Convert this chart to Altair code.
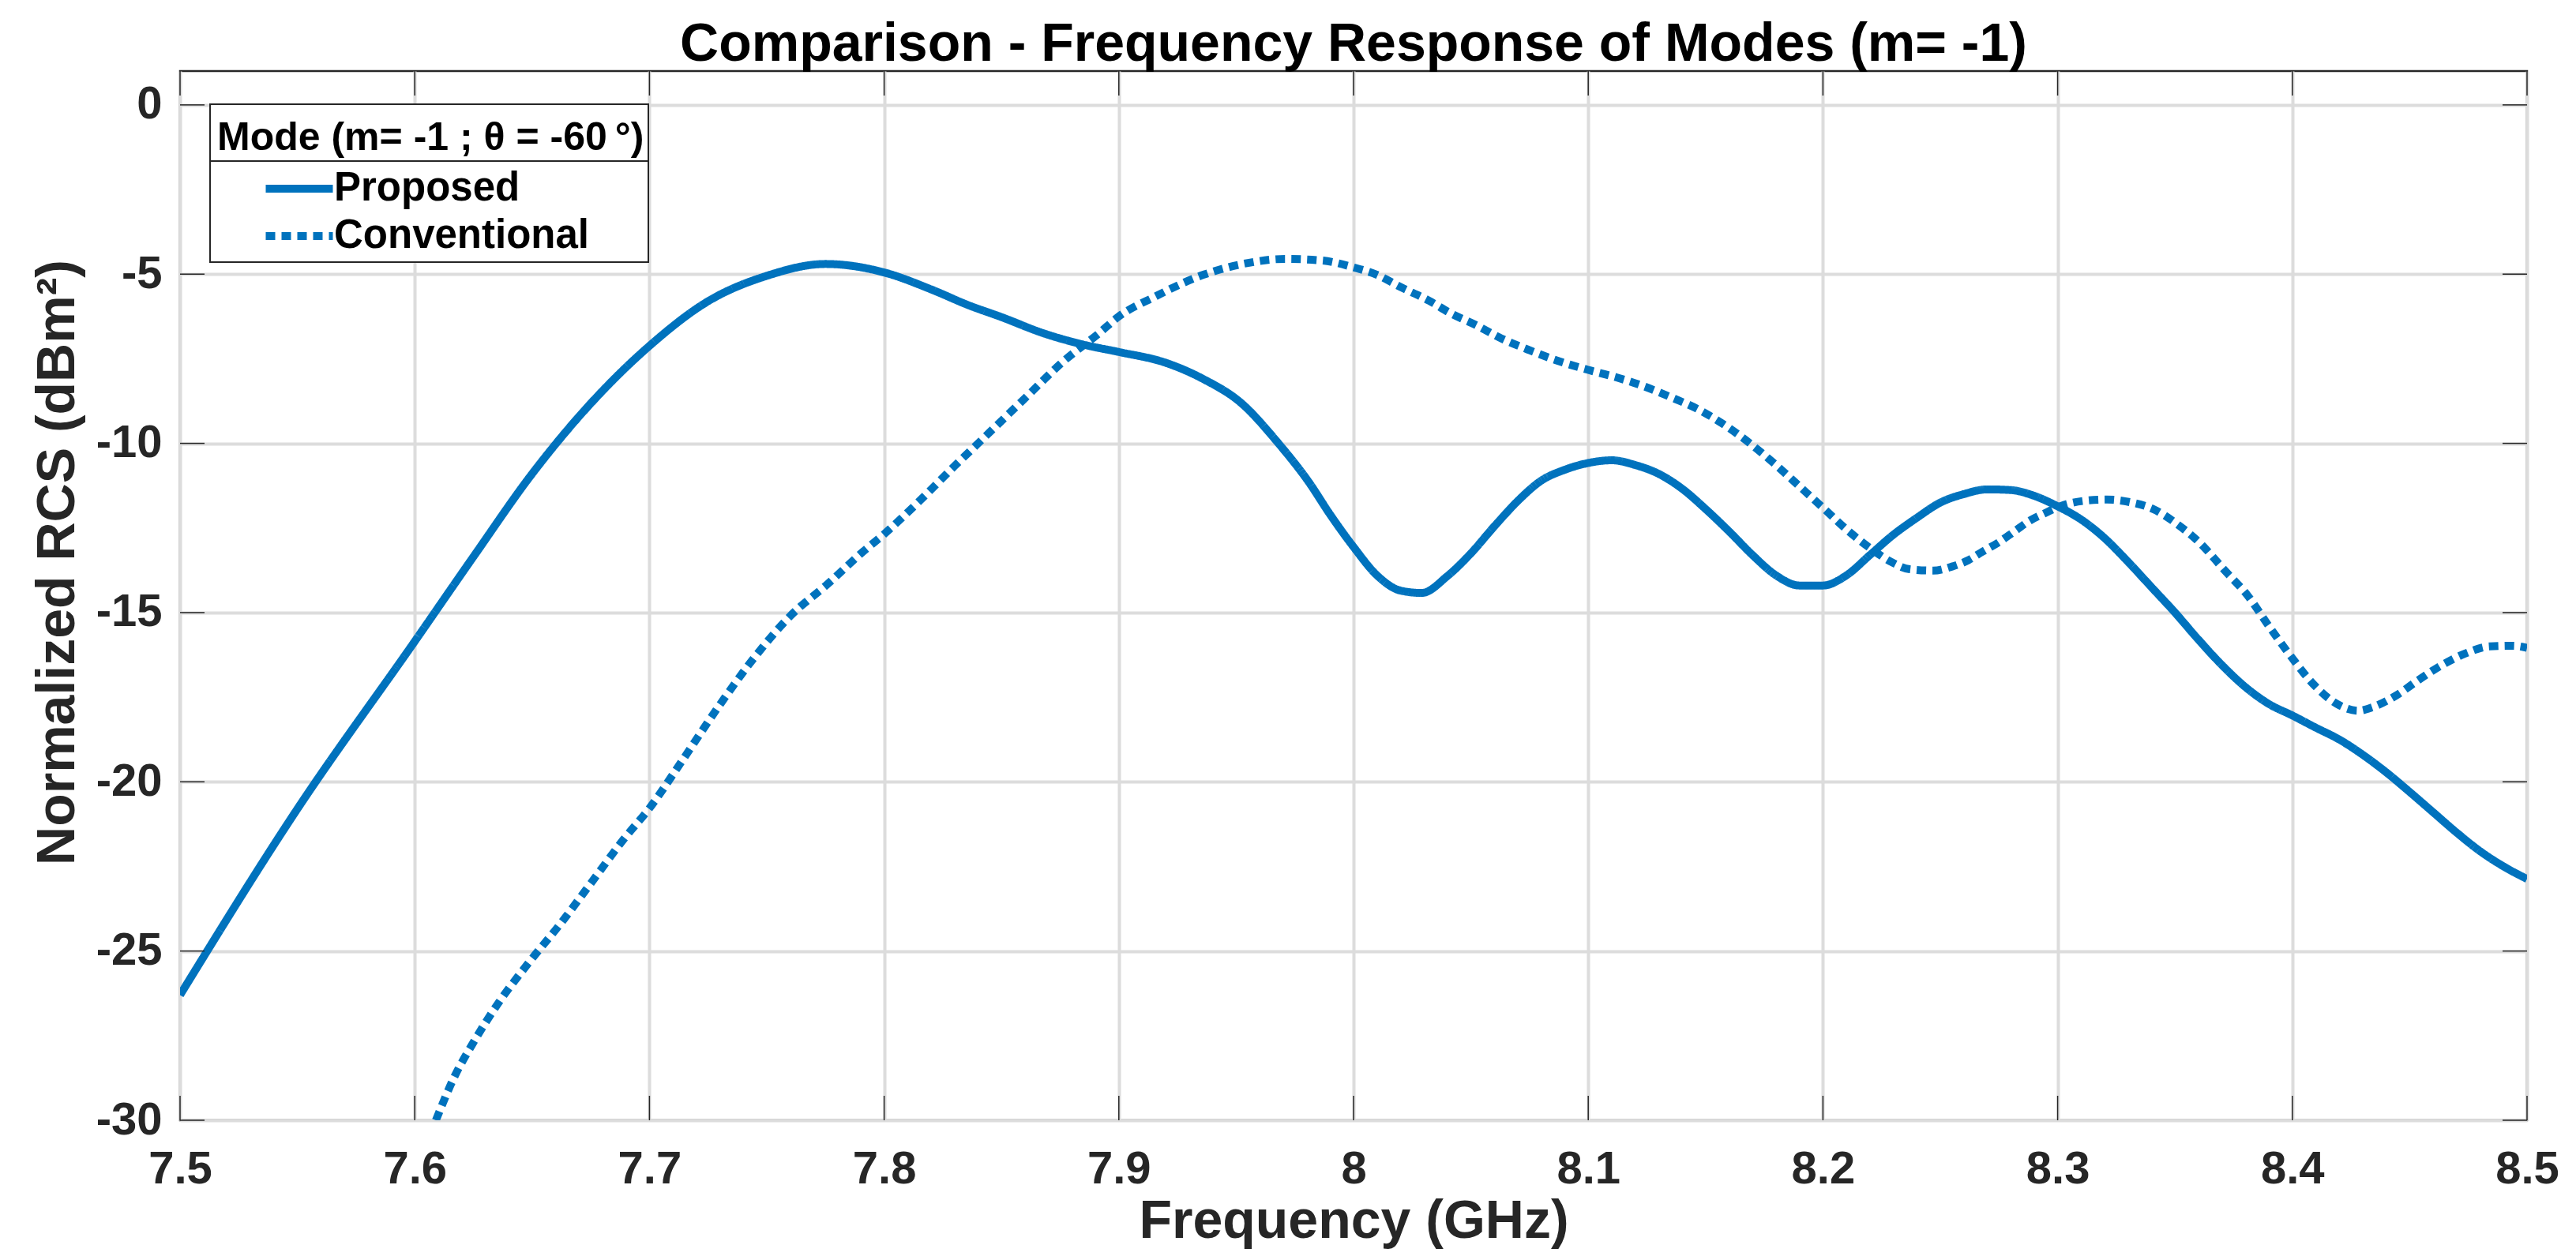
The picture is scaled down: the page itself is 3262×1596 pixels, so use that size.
import altair as alt
import pandas as pd

# ---------------- data ----------------
series_names = ["Proposed", "Conventional"]

prop_freq = [7.50, 7.55, 7.60, 7.625, 7.65, 7.675, 7.70, 7.725, 7.75, 7.775,
             7.80, 7.82, 7.836, 7.85, 7.868, 7.886, 7.90, 7.92, 7.936, 7.952,
             7.968, 7.981, 7.99, 8.00, 8.01, 8.02, 8.029, 8.04, 8.05, 8.06,
             8.07, 8.08, 8.09, 8.10, 8.11, 8.12, 8.13, 8.14, 8.15, 8.16,
             8.17, 8.18, 8.19, 8.20, 8.21, 8.22, 8.23, 8.24, 8.25, 8.26,
             8.27, 8.28, 8.29, 8.30, 8.31, 8.32, 8.33, 8.34, 8.35, 8.36,
             8.37, 8.38, 8.39, 8.40, 8.41, 8.42, 8.43, 8.44, 8.45, 8.46,
             8.47, 8.48, 8.49, 8.50]
prop_rcs = [-26.3, -20.8, -15.85, -13.35, -10.9, -8.82, -7.12, -5.8, -5.05, -4.7,
            -4.95, -5.45, -5.92, -6.27, -6.75, -7.1, -7.3, -7.62, -8.1, -8.8,
            -10.0, -11.15, -12.1, -13.06, -13.9, -14.35, -14.42, -13.92, -13.25, -12.45,
            -11.7, -11.1, -10.78, -10.58, -10.5, -10.64, -10.9, -11.34, -11.94, -12.6,
            -13.3, -13.9, -14.2, -14.2, -13.9, -13.3, -12.7, -12.2, -11.75, -11.5,
            -11.36, -11.38, -11.55, -11.86, -12.25, -12.8, -13.5, -14.25, -15.0, -15.8,
            -16.55, -17.2, -17.7, -18.04, -18.4, -18.75, -19.2, -19.72, -20.3, -20.9,
            -21.5, -22.05, -22.5, -22.87]

conv_freq = [7.609, 7.617, 7.625, 7.635, 7.6485, 7.662, 7.675, 7.689, 7.70, 7.714,
             7.7295, 7.745, 7.76, 7.776, 7.791, 7.80, 7.8145, 7.83, 7.845, 7.861,
             7.876, 7.892, 7.90, 7.915, 7.936, 7.955, 7.971, 7.987, 8.00, 8.01,
             8.02, 8.032, 8.042, 8.052, 8.063, 8.075, 8.087, 8.10, 8.112, 8.124,
             8.135, 8.147, 8.159, 8.17, 8.18, 8.19, 8.20, 8.211, 8.221, 8.229,
             8.237, 8.247, 8.255, 8.262, 8.268, 8.275, 8.282, 8.288, 8.295, 8.301,
             8.311, 8.321, 8.331, 8.341, 8.351, 8.361, 8.371, 8.381, 8.39, 8.40,
             8.409, 8.419, 8.428, 8.434, 8.444, 8.454, 8.464, 8.474, 8.484, 8.494,
             8.50]
conv_rcs = [-30.0, -28.7, -27.7, -26.6, -25.35, -24.2, -23.0, -21.7, -20.78, -19.37,
            -17.77, -16.3, -15.1, -14.15, -13.2, -12.68, -11.74, -10.67, -9.67, -8.6,
            -7.6, -6.72, -6.25, -5.68, -5.02, -4.67, -4.55, -4.6, -4.8, -5.02,
            -5.38, -5.78, -6.18, -6.5, -6.9, -7.25, -7.56, -7.83, -8.05, -8.32,
            -8.63, -9.0, -9.5, -10.06, -10.64, -11.27, -11.9, -12.6, -13.14, -13.5,
            -13.72, -13.76, -13.64, -13.45, -13.2, -12.92, -12.58, -12.29, -12.05, -11.86,
            -11.7, -11.66, -11.74, -11.95, -12.39, -12.97, -13.74, -14.5, -15.4, -16.35,
            -17.12, -17.7, -17.9, -17.8, -17.46, -16.98, -16.54, -16.2, -16.0, -15.98,
            -16.04]

x_ticks = [7.5, 7.6, 7.7, 7.8, 7.9, 8.0, 8.1, 8.2, 8.3, 8.4, 8.5]
y_ticks = [-30, -25, -20, -15, -10, -5, 0]
x_domain = [7.5, 8.5]
y_domain = [-30, 1]

chart_title = "Comparison - Frequency Response of Modes (m= -1)"
legend_title = "Mode (m= -1 ; \u03b8 = -60\u2009\u00b0)"
x_title = "Frequency (GHz)"
y_title = "Normalized RCS (dBm\u00b2)"

# ---------------- styling ----------------
W, H = 2972, 1329
FONT = "Liberation Sans"
BLUE = "#0072BD"
AX = "#262626"
GRID = "#dcdcdc"
TICK_LEN = 31

df = pd.concat([
    pd.DataFrame({"freq": prop_freq, "rcs": prop_rcs, "series": series_names[0]}),
    pd.DataFrame({"freq": conv_freq, "rcs": conv_rcs, "series": series_names[1]}),
], ignore_index=True)

xscale = alt.Scale(domain=x_domain, nice=False, zero=False)
yscale = alt.Scale(domain=y_domain, nice=False, zero=False)

x_axis = alt.Axis(
    values=x_ticks, labelExpr="'' + datum.value", title=x_title,
    grid=True, gridColor=GRID, gridWidth=4, domain=False, ticks=False, tickSize=0,
    labelFont=FONT, labelFontSize=58, labelFontWeight="bold", labelColor=AX,
    labelPadding=33, labelFlush=False, labelOverlap=False,
    titleFont=FONT, titleFontSize=68, titleFontWeight="bold", titleColor=AX,
    titleY=148, titleBaseline="alphabetic",
)
y_axis = alt.Axis(
    values=y_ticks, labelExpr="'' + datum.value", title=y_title,
    grid=True, gridColor=GRID, gridWidth=4, domain=False, ticks=False, tickSize=0,
    labelFont=FONT, labelFontSize=58, labelFontWeight="bold", labelColor=AX,
    labelPadding=23, labelFlush=False, labelOverlap=False,
    titleFont=FONT, titleFontSize=68, titleFontWeight="bold", titleColor=AX,
    titleX=-135, titleY=622, titleAngle=270, titleAlign="center",
    titleBaseline="alphabetic",
)

legend = alt.Legend(
    title=legend_title, orient="none", legendX=47, legendY=60, padding=0,
    titleFont=FONT, titleFontSize=50, titleFontWeight="bold", titleColor="black",
    titlePadding=9, titleLimit=2000,
    labelFont=FONT, labelFontSize=51, labelFontWeight="bold", labelColor="black",
    labelLimit=2000, labelOffset=14,
    symbolType="M-1.7,0H1.7", symbolSize=2500, symbolStrokeWidth=10,
    symbolStrokeColor=BLUE, symbolOffset=74, rowPadding=5,
)

# legend frame (white box + divider under the title)
legend_box = alt.Chart(pd.DataFrame({"k": [0]})).mark_rect(
    fill="white", stroke=AX, strokeWidth=2
).encode(x=alt.value(38), x2=alt.value(593), y=alt.value(42), y2=alt.value(242))
legend_div = alt.Chart(pd.DataFrame({"k": [0]})).mark_rule(
    color=AX, strokeWidth=2
).encode(x=alt.value(38), x2=alt.value(593), y=alt.value(114))

lines = alt.Chart(df).mark_line(
    color=BLUE, strokeWidth=10, strokeCap="butt", strokeJoin="round",
    interpolate="monotone", clip=True
).encode(
    x=alt.X("freq:Q", scale=xscale, axis=x_axis),
    y=alt.Y("rcs:Q", scale=yscale, axis=y_axis),
    strokeDash=alt.StrokeDash(
        "series:N",
        scale=alt.Scale(domain=series_names, range=[[1, 0], [12, 8]]),
        legend=legend,
    ),
)

xt = pd.DataFrame({"v": x_ticks})
yt = pd.DataFrame({"v": y_ticks})
tick_style = dict(color=AX, strokeWidth=1.5)
top_ticks = alt.Chart(xt).mark_rule(**tick_style).encode(
    x=alt.X("v:Q", scale=xscale), y=alt.value(0), y2=alt.value(TICK_LEN))
bot_ticks = alt.Chart(xt).mark_rule(**tick_style).encode(
    x=alt.X("v:Q", scale=xscale), y=alt.value(H - TICK_LEN), y2=alt.value(H))
left_ticks = alt.Chart(yt).mark_rule(**tick_style).encode(
    y=alt.Y("v:Q", scale=yscale), x=alt.value(0), x2=alt.value(TICK_LEN))
right_ticks = alt.Chart(yt).mark_rule(**tick_style).encode(
    y=alt.Y("v:Q", scale=yscale), x=alt.value(W - TICK_LEN), x2=alt.value(W))

chart = alt.layer(
    legend_box, legend_div, lines, top_ticks, bot_ticks, left_ticks, right_ticks
).properties(
    width=W, height=H,
    title=alt.TitleParams(
        text=chart_title, font=FONT, fontSize=68, fontWeight="bold",
        color="black", anchor="middle", baseline="alphabetic", offset=15,
        dy=71, frame="group",
    ),
    autosize=alt.AutoSizeParams(type="none"),
    padding={"left": 220, "top": 82, "right": 40, "bottom": 172},
    background="white",
).configure_view(stroke=AX, strokeWidth=2.5)

chart.save("out.html", embed_options={"renderer": "svg", "actions": False})
